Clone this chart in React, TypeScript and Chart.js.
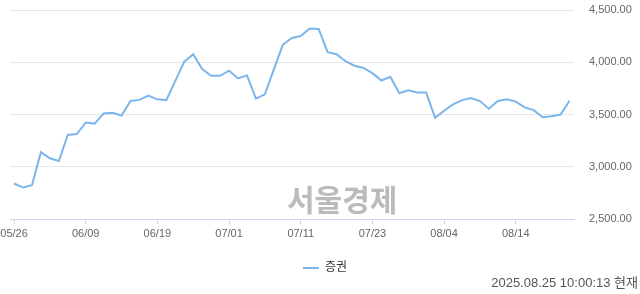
import React, { useEffect, useRef } from "react";
import { Chart, registerables } from "chart.js";

Chart.register(...registerables);

const dates = [
  "05/26", "05/27", "05/28", "05/29", "05/30", "06/02", "06/04", "06/05", "06/09", "06/10",
  "06/11", "06/12", "06/13", "06/16", "06/17", "06/18", "06/19", "06/20", "06/23", "06/24",
  "06/25", "06/26", "06/27", "06/30", "07/01", "07/02", "07/03", "07/04", "07/07", "07/08",
  "07/09", "07/10", "07/11", "07/14", "07/15", "07/16", "07/17", "07/18", "07/21", "07/22",
  "07/23", "07/24", "07/25", "07/28", "07/29", "07/30", "07/31", "08/01", "08/04", "08/05",
  "08/06", "08/07", "08/08", "08/11", "08/12", "08/13", "08/14", "08/18", "08/19", "08/20",
  "08/21", "08/22", "08/25",
];

const values = [
  2840, 2801, 2823, 3139, 3081, 3055, 3304, 3313, 3423, 3413,
  3510, 3516, 3490, 3629, 3640, 3682, 3645, 3638, 3822, 4006,
  4077, 3935, 3870, 3870, 3919, 3845, 3874, 3652, 3693, 3932,
  4167, 4232, 4251, 4322, 4319, 4097, 4077, 4010, 3967, 3945,
  3896, 3825, 3861, 3703, 3732, 3710, 3710, 3468, 3536, 3597,
  3638, 3658, 3629, 3555, 3629, 3645, 3623, 3568, 3542, 3474,
  3484, 3500, 3632,
];

const tickLabels = ["05/26", "06/09", "06/19", "07/01", "07/11", "07/23", "08/04", "08/14"];
const yTicks = [2500, 3000, 3500, 4000, 4500];

const seriesName = "증권";
const watermark = "서울경제";
const timestamp = "2025.08.25 10:00:13 현재";

const LINE_COLOR = "#7cb5ec";
const FONT = "'Liberation Sans', Arial, 'Noto Sans CJK KR', sans-serif";

export default function App() {
  const canvasRef = useRef<HTMLCanvasElement | null>(null);

  useEffect(() => {
    const canvas = canvasRef.current;
    if (!canvas) return;
    const tickIdx = tickLabels.map((l) => dates.indexOf(l));
    const chart = new Chart(canvas, {
      type: "line",
      data: {
        datasets: [
          {
            label: seriesName,
            data: values.map((v, i) => ({ x: i, y: v })),
            borderColor: LINE_COLOR,
            backgroundColor: LINE_COLOR,
            borderWidth: 2,
            pointRadius: 0,
            tension: 0,
            fill: false,
          },
        ],
      },
      options: {
        animation: false,
        responsive: false,
        maintainAspectRatio: false,
        devicePixelRatio: 1,
        layout: { padding: { top: 10, left: 10, right: 0, bottom: 10 } },
        plugins: {
          tooltip: { enabled: false },
          legend: {
            position: "bottom",
            labels: {
              font: { family: FONT, size: 12 },
              color: "#333333",
              boxWidth: 16,
              boxHeight: 2,
              padding: 10,
              generateLabels: (c: any) =>
                Chart.defaults.plugins.legend.labels
                  .generateLabels(c)
                  .map((l: any) => ({ ...l, lineWidth: 0, fillStyle: LINE_COLOR })),
            },
          },
        },
        scales: {
          x: {
            type: "linear",
            min: -0.45,
            max: 62.5,
            afterBuildTicks: (axis: any) => {
              axis.ticks = tickIdx.map((v) => ({ value: v }));
            },
            afterFit: (axis: any) => {
              axis.height = 33;
              axis.paddingLeft = 0;
              axis.paddingRight = 0;
            },
            ticks: {
              autoSkip: false,
              maxRotation: 0,
              padding: 3,
              color: "#666666",
              font: { family: FONT, size: 11 },
              callback: (v: any) => dates[Number(v)] ?? "",
            },
            grid: {
              drawOnChartArea: false,
              drawTicks: true,
              tickLength: 5,
              color: "#ccd6eb",
            },
            border: { display: true, color: "#ccd6eb" },
          },
          y: {
            position: "right",
            min: yTicks[0],
            max: yTicks[yTicks.length - 1],
            afterBuildTicks: (axis: any) => {
              axis.ticks = yTicks.map((v) => ({ value: v }));
            },
            afterFit: (axis: any) => {
              axis.width = 66;
              axis.paddingTop = 0;
              axis.paddingBottom = 0;
            },
            ticks: {
              padding: 15,
              color: "#666666",
              font: { family: FONT, size: 11 },
              callback: (v: any) =>
                Number(v).toLocaleString("en-US", { minimumFractionDigits: 2, maximumFractionDigits: 2 }),
            },
            grid: {
              drawTicks: false,
              color: (ctx: any) => (ctx.tick && ctx.tick.value === yTicks[0] ? "rgba(0,0,0,0)" : "#e6e6e6"),
            },
            border: { display: false },
          },
        },
      },
    });
    return () => chart.destroy();
  }, []);

  return (
    <div style={{ position: "absolute", left: 0, top: 0, width: 640, height: 294, background: "#fff", overflow: "hidden" }}>
      <canvas ref={canvasRef} width={640} height={294} style={{ width: 640, height: 294, display: "block" }} />
      <div
        style={{
          position: "absolute",
          left: 287,
          top: 181,
          fontFamily: "'Noto Sans CJK KR', sans-serif",
          fontWeight: 700,
          fontSize: 30,
          lineHeight: "34px",
          color: "#bbbbbb",
          whiteSpace: "nowrap",
        }}
      >
        {watermark}
      </div>
      <div
        style={{
          position: "absolute",
          right: 2,
          top: 275,
          fontFamily: FONT,
          fontSize: 13,
          lineHeight: "15px",
          color: "#555555",
          whiteSpace: "nowrap",
        }}
      >
        {timestamp}
      </div>
    </div>
  );
}
